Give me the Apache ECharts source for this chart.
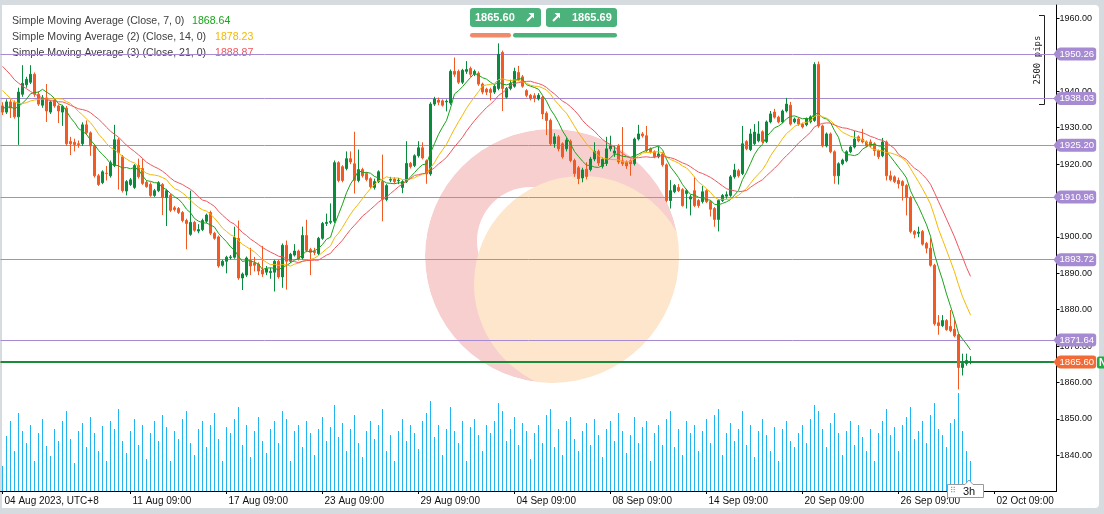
<!DOCTYPE html>
<html>
<head>
<meta charset="utf-8">
<script src="https://cdn.jsdelivr.net/npm/echarts@6/dist/echarts.min.js"></script>
<style>
html,body{margin:0;padding:0;background:#d5dbde;overflow:hidden;}
#panel{position:absolute;left:2px;top:5px;width:1097px;height:503px;background:#fff;border-radius:0 4px 4px 0;}
#main{position:absolute;left:0;top:0;width:1104px;height:514px;}
</style>
</head>
<body>
<div id="panel"></div>
<div id="main"></div>
<script>
// 3h candles, [open, close, low, high]
const ohlc = [
[1936.0,1934.3,1933.5,1937.0],[1934.3,1937.1,1933.8,1937.8],[1937.1,1935.4,1932.7,1937.8],[1937.0,1933.0,1932.5,1937.5],
[1933.0,1939.8,1925.3,1941.0],[1939.2,1942.2,1938.5,1947.2],[1941.8,1943.3,1941.0,1944.0],[1942.5,1944.7,1942.0,1947.2],
[1944.7,1939.2,1938.5,1945.2],[1939.2,1936.5,1936.0,1940.0],[1936.2,1938.2,1935.5,1939.0],[1938.2,1934.6,1931.6,1942.0],
[1934.3,1937.1,1933.8,1937.5],[1937.6,1936.0,1935.5,1938.2],[1936.0,1934.6,1931.3,1936.4],[1934.3,1935.9,1930.5,1936.3],
[1935.4,1925.6,1925.0,1936.0],[1926.2,1925.6,1922.5,1927.5],[1926.0,1925.4,1923.5,1927.0],[1925.6,1925.4,1924.5,1926.5],
[1925.6,1930.8,1925.0,1931.5],[1930.8,1928.6,1928.0,1932.0],[1928.6,1925.0,1922.3,1929.0],[1925.0,1916.8,1916.3,1925.5],
[1916.8,1914.4,1914.0,1917.3],[1914.9,1917.9,1914.5,1918.3],[1917.5,1917.4,1915.5,1919.5],[1916.8,1920.4,1916.3,1921.0],
[1919.6,1926.7,1919.2,1930.8],[1926.7,1923.1,1913.0,1927.2],[1922.0,1912.7,1912.2,1922.5],[1912.6,1915.2,1911.4,1915.6],
[1914.4,1915.7,1914.0,1916.2],[1913.6,1919.6,1913.2,1920.0],[1919.6,1916.5,1916.0,1921.5],[1918.8,1914.7,1914.3,1921.5],
[1915.0,1913.8,1913.5,1915.5],[1914.4,1911.4,1911.0,1915.0],[1911.4,1912.7,1911.0,1913.2],[1912.7,1914.9,1912.3,1915.3],
[1914.4,1910.8,1906.0,1914.8],[1910.8,1912.7,1903.0,1913.2],[1911.4,1907.3,1906.8,1911.8],[1908.0,1907.5,1907.0,1908.5],
[1907.8,1906.7,1906.3,1908.2],[1906.7,1904.5,1904.0,1907.1],[1904.5,1903.7,1896.6,1905.0],[1900.7,1904.0,1900.3,1912.7],
[1904.0,1901.8,1901.4,1904.4],[1901.6,1902.0,1901.0,1903.5],[1902.0,1904.5,1901.6,1905.0],[1904.3,1906.0,1903.8,1906.4],
[1906.7,1901.0,1900.5,1907.2],[1901.0,1899.6,1899.2,1901.4],[1900.0,1892.0,1891.5,1900.4],[1892.2,1893.3,1891.8,1893.7],
[1893.3,1894.4,1890.0,1894.8],[1894.3,1894.5,1893.8,1895.0],[1894.4,1899.9,1894.0,1902.8],[1899.6,1888.7,1888.2,1904.5],
[1888.7,1889.8,1885.4,1890.2],[1889.5,1894.2,1889.0,1894.6],[1893.5,1892.0,1889.5,1897.0],[1892.8,1892.2,1890.5,1894.5],
[1892.5,1890.6,1889.5,1893.0],[1890.9,1889.8,1889.0,1897.5],[1890.3,1891.2,1889.5,1892.0],[1890.2,1890.5,1888.5,1891.5],
[1890.3,1893.3,1885.0,1893.7],[1893.3,1889.0,1888.5,1893.7],[1889.0,1897.7,1886.0,1898.2],[1897.7,1893.3,1885.5,1899.0],
[1893.3,1895.2,1892.8,1895.6],[1895.0,1896.1,1894.6,1898.0],[1896.1,1893.9,1893.5,1896.5],[1894.2,1900.4,1893.8,1902.8],
[1900.4,1896.3,1895.8,1904.7],[1896.5,1895.8,1889.5,1897.0],[1896.0,1895.7,1895.0,1897.0],[1895.4,1899.6,1895.0,1900.0],
[1899.6,1903.7,1899.2,1904.1],[1903.7,1904.0,1903.0,1906.4],[1904.0,1904.3,1903.5,1909.2],[1904.3,1920.4,1903.8,1921.0],
[1920.4,1915.5,1915.0,1920.8],[1919.3,1915.5,1915.0,1919.7],[1918.8,1921.5,1918.3,1923.5],[1921.5,1920.6,1920.0,1923.5],
[1920.1,1915.5,1911.9,1928.9],[1915.5,1918.5,1915.0,1924.0],[1918.5,1916.8,1916.3,1919.0],[1917.4,1915.8,1915.3,1917.8],
[1916.0,1913.8,1913.3,1916.4],[1913.6,1915.2,1913.0,1916.0],[1915.2,1917.9,1914.8,1918.3],[1915.2,1910.3,1904.3,1922.6],
[1910.3,1914.1,1909.8,1914.5],[1915.6,1915.8,1915.0,1916.5],[1915.9,1915.2,1914.6,1916.4],[1915.4,1915.6,1914.5,1916.2],
[1913.6,1915.2,1912.0,1915.6],[1915.2,1920.2,1914.8,1926.3],[1920.2,1919.3,1918.8,1920.6],[1919.6,1922.3,1919.2,1922.7],
[1922.3,1924.5,1921.8,1926.3],[1924.5,1921.7,1921.3,1926.0],[1920.9,1917.3,1914.6,1921.3],[1917.3,1936.5,1916.8,1937.0],
[1936.5,1937.9,1936.0,1938.5],[1937.6,1937.0,1936.2,1938.3],[1937.4,1936.2,1935.8,1937.8],[1937.1,1937.3,1934.5,1937.8],
[1936.8,1945.5,1936.3,1946.0],[1945.5,1944.7,1944.0,1949.3],[1945.5,1942.5,1942.0,1946.0],[1942.5,1945.8,1942.0,1946.2],
[1945.5,1946.0,1944.8,1948.3],[1946.3,1944.7,1944.0,1946.8],[1944.7,1945.5,1944.2,1946.0],[1945.0,1942.0,1941.5,1945.5],
[1942.0,1939.8,1939.2,1942.4],[1940.6,1939.8,1939.0,1941.0],[1940.5,1939.7,1937.5,1941.0],[1939.8,1941.4,1939.3,1941.8],
[1940.8,1950.2,1940.3,1953.2],[1950.7,1940.8,1934.6,1951.2],[1938.4,1940.8,1938.0,1941.2],[1940.8,1942.2,1940.3,1943.2],
[1941.4,1945.5,1941.0,1946.5],[1945.2,1943.2,1942.8,1947.0],[1944.0,1941.4,1941.0,1944.5],[1940.2,1938.9,1938.4,1940.6],
[1938.9,1938.0,1937.5,1939.3],[1938.8,1938.2,1937.0,1939.5],[1937.9,1938.9,1937.5,1939.5],[1938.4,1933.8,1932.4,1938.8],
[1934.0,1932.0,1928.0,1934.5],[1932.0,1925.6,1925.0,1932.5],[1925.6,1927.5,1924.5,1928.5],[1927.5,1924.2,1923.5,1928.0],
[1925.6,1922.0,1921.5,1926.0],[1924.2,1926.6,1923.5,1927.3],[1926.3,1921.0,1920.5,1926.8],[1921.0,1917.4,1916.5,1921.5],
[1919.0,1916.0,1914.5,1919.5],[1916.2,1918.4,1915.0,1919.0],[1918.6,1916.6,1915.8,1920.5],[1918.5,1921.4,1918.0,1922.0],
[1921.4,1923.5,1920.8,1926.0],[1923.5,1920.3,1919.5,1924.0],[1919.4,1921.3,1918.8,1921.8],[1920.2,1924.2,1919.5,1927.5],
[1924.2,1925.0,1923.5,1927.8],[1923.0,1923.6,1922.0,1925.0],[1925.0,1920.6,1920.0,1925.5],[1920.9,1920.1,1919.5,1930.2],
[1920.6,1919.5,1918.7,1921.0],[1920.9,1920.1,1916.8,1921.3],[1920.1,1926.9,1919.6,1927.3],[1926.9,1928.3,1926.5,1930.8],
[1928.3,1927.8,1927.3,1928.8],[1927.8,1923.7,1923.2,1930.5],[1924.2,1923.4,1922.9,1924.6],[1923.4,1922.0,1921.6,1923.8],
[1922.0,1922.8,1921.6,1924.9],[1922.8,1919.8,1919.3,1923.2],[1919.8,1910.0,1909.5,1920.2],[1910.0,1912.7,1907.8,1915.6],
[1912.4,1914.1,1912.0,1914.5],[1913.6,1912.7,1912.3,1914.5],[1913.0,1908.6,1908.3,1913.4],[1911.9,1912.7,1907.8,1913.2],
[1910.4,1911.0,1905.9,1911.6],[1912.7,1908.6,1908.2,1916.5],[1910.0,1908.6,1908.0,1910.4],[1909.7,1912.4,1909.2,1914.0],
[1912.7,1909.7,1909.3,1913.1],[1909.7,1907.6,1905.6,1910.1],[1907.8,1904.8,1902.8,1908.2],[1904.8,1910.0,1901.5,1910.4],
[1910.0,1911.4,1909.6,1911.8],[1911.2,1911.6,1910.5,1912.5],[1911.4,1916.5,1911.0,1917.0],[1916.5,1918.4,1916.0,1920.1],
[1918.2,1916.8,1916.3,1918.7],[1917.4,1925.6,1917.0,1930.5],[1926.2,1924.2,1923.8,1926.6],[1924.0,1928.3,1923.6,1929.7],
[1925.6,1928.8,1925.2,1931.0],[1926.4,1928.3,1926.0,1931.8],[1928.9,1926.2,1925.8,1929.3],[1926.2,1931.6,1925.8,1932.0],
[1931.6,1933.8,1931.2,1934.6],[1934.3,1932.9,1932.5,1935.2],[1932.9,1931.6,1931.2,1933.3],[1931.6,1934.6,1931.2,1935.0],
[1934.6,1936.5,1934.2,1938.2],[1936.2,1931.0,1930.6,1937.1],[1931.6,1932.4,1931.2,1932.8],[1932.4,1931.0,1930.5,1932.8],
[1931.0,1930.2,1929.8,1931.4],[1930.8,1932.4,1930.4,1932.8],[1931.6,1933.0,1931.2,1933.4],[1932.0,1947.4,1931.6,1948.0],
[1947.4,1930.5,1930.0,1948.2],[1930.5,1925.0,1924.6,1930.9],[1925.0,1928.3,1924.6,1928.7],[1928.3,1923.4,1923.0,1928.7],
[1923.4,1916.8,1914.6,1923.8],[1916.8,1920.1,1914.4,1920.5],[1920.1,1921.1,1919.7,1921.5],[1920.9,1923.4,1920.5,1923.8],
[1923.4,1924.7,1923.0,1925.1],[1924.7,1926.9,1924.3,1929.1],[1927.5,1926.4,1926.0,1927.9],[1926.9,1926.1,1925.7,1929.7],
[1926.1,1925.0,1924.6,1926.5],[1926.1,1925.0,1924.5,1926.8],[1925.6,1923.7,1922.3,1926.0],[1923.7,1922.0,1921.4,1924.0],
[1922.3,1926.1,1921.9,1927.2],[1926.1,1916.8,1915.5,1926.5],[1916.8,1915.7,1915.3,1918.2],[1916.5,1915.2,1914.8,1916.9],
[1915.5,1914.6,1913.3,1916.3],[1915.2,1914.1,1910.0,1915.6],[1914.1,1910.8,1905.9,1914.5],[1910.8,1901.5,1901.0,1911.2],
[1901.5,1900.7,1899.6,1901.9],[1901.0,1901.3,1899.9,1902.8],[1901.5,1898.0,1897.6,1901.9],[1898.2,1896.9,1895.5,1898.6],
[1896.9,1892.2,1891.8,1899.6],[1892.2,1876.1,1875.6,1892.6],[1876.4,1875.6,1873.1,1878.5],[1875.6,1877.0,1875.2,1878.5],
[1877.0,1874.5,1874.2,1877.4],[1875.4,1874.2,1873.8,1879.9],[1874.6,1872.8,1872.4,1877.2],[1873.1,1864.1,1858.1,1873.5],
[1864.1,1865.2,1861.9,1867.9],[1865.2,1866.0,1864.6,1867.9],[1865.5,1865.6,1865.0,1867.2]
];

// closes before the first visible bar (only feed the moving averages)
const priorCloses = [1961,1960,1962,1959,1960,1958,1960.7,1953,1950,1947,1945,1943,1940,1938,1936,1934,1937,1935,1936,1935.5];

const volumes = [
25,55,70,40,78,60,48,66,30,58,72,45, 35,62,50,70,80,52,28,60,68,44,74,58,
40,65,30,70,62,82,50,38,60,72,46,66, 32,58,70,50,76,64,30,60,52,72,80,48,
36,62,70,44,66,78,52,30,64,58,72,84, 46,66,34,60,74,50,38,62,70,48,80,72,
30,60,66,44,70,58,36,62,74,50,64,86, 54,68,40,62,76,48,34,60,70,52,66,82,
40,56,30,60,72,50,66,58,42,70,78,90, 54,66,36,62,84,60,48,70,30,64,72,56,
40,66,58,70,88,80,50,62,74,46,68,60, 32,58,66,48,76,82,44,62,36,70,74,52,
40,60,68,46,72,56,34,62,70,50,78,60, 38,56,74,48,64,70,30,58,66,46,72,80,
44,62,36,70,58,66,40,60,72,48,76,82, 36,58,68,50,62,80,46,66,34,60,72,56,
40,64,30,62,70,50,44,58,66,48,72,86, 80,62,44,68,78,58,36,60,70,46,66,54,
40,62,30,58,70,82,56,64,40,66,74,84, 52,60,70,48,76,88,62,56,44,68,72,98,
60,40,30
];

const slotCount = 264;
const tickIdx = [0, 32, 56, 80, 104, 128, 152, 176, 200, 224, 248];
const tickText = ['04 Aug 2023, UTC+8', '11 Aug 09:00', '17 Aug 09:00', '23 Aug 09:00', '29 Aug 09:00',
  '04 Sep 09:00', '08 Sep 09:00', '14 Sep 09:00', '20 Sep 09:00', '26 Sep 09:00', '02 Oct 09:00'];
const yTicks = [1840, 1850, 1860, 1870, 1880, 1890, 1900, 1910, 1920, 1930, 1940, 1950, 1960];
const levels = [1950.26, 1938.03, 1925.20, 1910.96, 1893.72, 1871.64];
const bid = 1865.60, ask = 1865.69;
const maNames = ['Simple Moving Average (Close, 7, 0)', 'Simple Moving Average (2) (Close, 14, 0)', 'Simple Moving Average (3) (Close, 21, 0)'];
const maValues = ['1868.64', '1878.23', '1888.87'];

const FONT = 'Liberation Sans, Arial, sans-serif';
const UP = '#0a8a3c', DOWN = '#f25a23';
const PURPLE = '#a78bd2';
const BTN = '#4cb27c';

function sma(n) {
  const all = priorCloses.concat(ohlc.map(d => d[1]));
  const off = priorCloses.length;
  return ohlc.map((d, i) => {
    let s = 0;
    for (let k = i + off - n + 1; k <= i + off; k++) s += all[k];
    return +(s / n).toFixed(2);
  });
}

const cats = [];
for (let i = 0; i < slotCount; i++) cats.push(String(i));
const showTick = idx => tickIdx.indexOf(idx) >= 0;

const chart = echarts.init(document.getElementById('main'), null, {renderer: 'canvas'});

const legendFont = '10.6px ' + FONT;
const graphics = [
  // watermark
  {type: 'circle', id: 'wm1', silent: true, z: -6, shape: {cx: 552, cy: 256, r: 127}, style: {fill: '#f8cfcf'}},
  {type: 'circle', id: 'wm4', silent: true, z: -5, shape: {cx: 531, cy: 241, r: 54}, style: {fill: '#fff'}},
  {type: 'circle', id: 'wm2', silent: true, z: -4, shape: {cx: 582, cy: 284, r: 108}, style: {fill: '#fde6cb'}},
  {type: 'ring', id: 'wm3', silent: true, z: -3, shape: {cx: 552, cy: 256, r0: 127, r: 160}, style: {fill: '#fff'}},
  // legend
  {type: 'text', id: 'lg0', x: 12, y: 21, style: {text: maNames[0], fill: '#404040', font: legendFont, verticalAlign: 'middle'}},
  {type: 'text', id: 'lg1', x: 12, y: 37, style: {text: maNames[1], fill: '#404040', font: legendFont, verticalAlign: 'middle'}},
  {type: 'text', id: 'lg2', x: 12, y: 53, style: {text: maNames[2], fill: '#404040', font: legendFont, verticalAlign: 'middle'}},
  {type: 'text', id: 'lv0', x: 192, y: 21, style: {text: maValues[0], fill: '#1aa31a', font: legendFont, verticalAlign: 'middle'}},
  {type: 'text', id: 'lv1', x: 215, y: 37, style: {text: maValues[1], fill: '#f4b800', font: legendFont, verticalAlign: 'middle'}},
  {type: 'text', id: 'lv2', x: 215, y: 53, style: {text: maValues[2], fill: '#f0545c', font: legendFont, verticalAlign: 'middle'}},
  // trade buttons
  {type: 'rect', id: 'b1', shape: {x: 470, y: 8, width: 71, height: 19, r: 3}, style: {fill: BTN}},
  {type: 'text', id: 'b1t', x: 475, y: 18, style: {text: bid.toFixed(2), fill: '#fff', font: 'bold 11px ' + FONT, verticalAlign: 'middle'}},
  {type: 'polyline', id: 'b1a', shape: {points: [[527, 21], [532.5, 15.5]]}, style: {stroke: '#fff', lineWidth: 2}},
  {type: 'polygon', id: 'b1h', shape: {points: [[534, 13], [528.5, 13], [534, 18.5]]}, style: {fill: '#fff'}},
  {type: 'rect', id: 'b2', shape: {x: 546, y: 8, width: 71, height: 19, r: 3}, style: {fill: BTN}},
  {type: 'polyline', id: 'b2a', shape: {points: [[553, 21], [558.5, 15.5]]}, style: {stroke: '#fff', lineWidth: 2}},
  {type: 'polygon', id: 'b2h', shape: {points: [[560, 13], [554.5, 13], [560, 18.5]]}, style: {fill: '#fff'}},
  {type: 'text', id: 'b2t', x: 572, y: 18, style: {text: ask.toFixed(2), fill: '#fff', font: 'bold 11px ' + FONT, verticalAlign: 'middle'}},
  {type: 'rect', id: 'b3', shape: {x: 470, y: 33, width: 41, height: 4.5, r: 2.2}, style: {fill: '#f08a68'}},
  {type: 'rect', id: 'b4', shape: {x: 513, y: 33, width: 104, height: 4.5, r: 2.2}, style: {fill: BTN}},
  // pips ruler
  {type: 'polyline', id: 'pr', shape: {points: [[1039, 15.5], [1044.5, 15.5], [1044.5, 104.5], [1039, 104.5]]}, style: {stroke: '#222', lineWidth: 1, fill: null}},
  {type: 'text', id: 'prt', x: 1037.5, y: 60, rotation: Math.PI / 2, style: {text: '2500 pips', fill: '#222', font: '9px DejaVu Sans Mono, monospace', align: 'center', verticalAlign: 'middle'}},
  // timeframe box
  {type: 'polygon', id: 'tf', z: 10, shape: {points: [[947.5, 484.5], [965, 484.5], [969, 480], [973, 484.5], [983.5, 484.5], [983.5, 497.5], [947.5, 497.5]]}, style: {fill: '#fff', stroke: '#9a9a9a', lineWidth: 1}},
  {type: 'text', id: 'tft', z: 11, x: 969, y: 491.5, style: {text: '3h', fill: '#111', font: '11px ' + FONT, align: 'center', verticalAlign: 'middle'}},
  {type: 'text', id: 'tfd', z: 11, x: 950, y: 491, style: {text: '⠿', fill: '#999', font: '8px DejaVu Sans', verticalAlign: 'middle'}},
  // N badge
  {type: 'rect', id: 'nb', z: 10, shape: {x: 1097, y: 356.5, width: 12, height: 12, r: 2}, style: {fill: '#22ad44'}},
  {type: 'text', id: 'nbt', z: 11, x: 1099, y: 363, style: {text: 'N', fill: '#fff', font: 'bold 10px ' + FONT, verticalAlign: 'middle'}}
];

const levelLabel = (bg) => ({
  show: true, position: 'end', distance: 1, formatter: p => p.value.toFixed(2),
  backgroundColor: bg, color: '#fff', fontSize: 9.6, fontFamily: FONT,
  padding: [2, 2, 1, 2], borderRadius: 3
});

const option = {
  animation: false,
  backgroundColor: 'transparent',
  grid: [
    {left: 0.5, right: 47.5, top: 5, bottom: 23},
    {left: 0.5, right: 47.5, bottom: 23, height: 100}
  ],
  xAxis: [
    {
      type: 'category', data: cats, boundaryGap: true,
      axisLine: {show: true, lineStyle: {color: '#000', width: 1}},
      axisTick: {show: true, alignWithLabel: true, interval: showTick, length: 3, lineStyle: {color: '#000'}},
      axisLabel: {
        show: true, interval: showTick, align: 'left', margin: 5, padding: [0, 0, 0, 2],
        color: '#111', fontSize: 10, fontFamily: FONT,
        formatter: (v, idx) => tickText[tickIdx.indexOf(Number(v))] || ''
      },
      splitLine: {show: false}
    },
    {type: 'category', gridIndex: 1, data: cats, boundaryGap: true, show: false}
  ],
  yAxis: [
    {
      type: 'value', position: 'right', min: 1830.15, max: 1963.74,
      splitLine: {show: false},
      axisLine: {show: true, lineStyle: {color: '#000', width: 1}},
      axisTick: {show: true, length: 3, customValues: yTicks, lineStyle: {color: '#000'}},
      axisLabel: {customValues: yTicks, formatter: v => v.toFixed(2), color: '#111', fontSize: 9, fontFamily: FONT, margin: 3}
    },
    {type: 'value', gridIndex: 1, min: 0, max: 100, show: false}
  ],
  graphic: graphics,
  series: [
    {
      name: 'Volume', type: 'bar', xAxisIndex: 1, yAxisIndex: 1, data: volumes,
      barWidth: 1, itemStyle: {color: '#22b4ee'}, silent: true, z: 1
    },
    {
      name: 'Price', type: 'candlestick', data: ohlc, barWidth: 3, z: 3,
      itemStyle: {color: UP, color0: DOWN, borderColor: UP, borderColor0: DOWN, borderWidth: 1},
      markLine: {
        silent: true, symbol: 'none', z: 2,
        data: levels.map(v => ({yAxis: v, lineStyle: {color: PURPLE, width: 1, type: 'solid'}, label: levelLabel(PURPLE)}))
          .concat([
            {yAxis: bid, lineStyle: {color: '#f26a35', width: 1, type: 'solid'}, label: levelLabel('#f26a35')},
            {yAxis: ask, lineStyle: {color: '#1b8a3a', width: 2, type: 'solid'}, label: {show: false}}
          ])
      }
    },
    {name: 'SMA7', type: 'line', data: sma(7), showSymbol: false, z: 4, lineStyle: {color: '#18a318', width: 1}},
    {name: 'SMA14', type: 'line', data: sma(14), showSymbol: false, z: 4, lineStyle: {color: '#f5b800', width: 1}},
    {name: 'SMA21', type: 'line', data: sma(21), showSymbol: false, z: 4, lineStyle: {color: '#f0545c', width: 1}}
  ]
};

chart.setOption(option);

// little arrow tips on the price badges
const tips = levels.map((v, k) => ({v, c: PURPLE, id: 'tip' + k})).concat([{v: bid, c: '#f26a35', id: 'tipb'}]);
chart.setOption({
  graphic: tips.map(t => {
    const y = chart.convertToPixel({yAxisIndex: 0}, t.v);
    return {type: 'polygon', id: t.id, z: 10, shape: {points: [[1053.5, y], [1058, y - 6], [1058, y + 6]]}, style: {fill: t.c}};
  })
});
</script>
</body>
</html>
